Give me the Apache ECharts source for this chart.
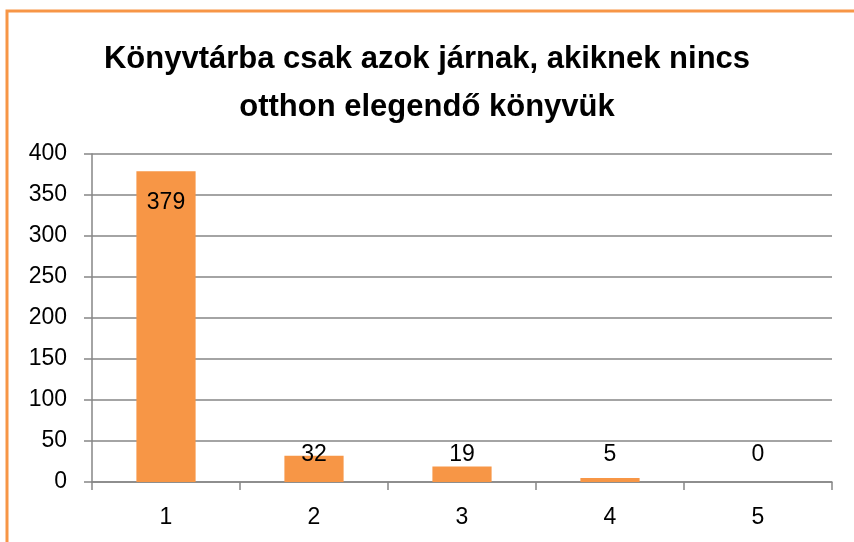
<!DOCTYPE html>
<html>
<head>
<meta charset="utf-8">
<script src="https://cdn.jsdelivr.net/npm/echarts@6/dist/echarts.min.js"></script>
<style>
  html, body { margin: 0; padding: 0; background: #fff; }
  #chart { width: 854px; height: 542px; }
</style>
</head>
<body>
<div id="chart"></div>
<script>
const titleText = 'Könyvtárba csak azok járnak, akiknek nincs\notthon elegendő könyvük'
const categories = ['1', '2', '3', '4', '5']
const values = [379, 32, 19, 5, 0]
const yTicks = {min: 0, max: 400, interval: 50}

const orange = '#F79646'
const gray = '#868686'
const font = '"Liberation Sans", Arial, sans-serif'

const chart = echarts.init(document.getElementById('chart'))

// big bar keeps its label inside, small ones sit just above the axis
const barData = values.map(v => ({
  value: v,
  label: v > 100
    ? {position: 'insideTop', distance: 20}
    : {position: 'insideBottom', distance: 16}
}))

chart.setOption({
  animation: false,
  backgroundColor: '#fff',
  title: {
    text: titleText,
    left: 'center',
    top: 30,
    textStyle: {
      fontFamily: font,
      fontWeight: 'bold',
      fontSize: 31,
      lineHeight: 48,
      color: '#000'
    }
  },
  graphic: [{
    type: 'rect',
    shape: {x: 7, y: 11, width: 900, height: 600},
    style: {fill: 'none', stroke: orange, lineWidth: 3},
    silent: true
  }],
  grid: {left: 92, right: 22, top: 154, bottom: 60},
  xAxis: {
    type: 'category',
    data: categories,
    axisLine: {lineStyle: {color: gray, width: 1.5}},
    axisTick: {show: true, length: 8, alignWithLabel: false, lineStyle: {color: gray, width: 1.5}},
    axisLabel: {color: '#000', fontFamily: font, fontSize: 23, margin: 24}
  },
  yAxis: {
    type: 'value',
    min: yTicks.min,
    max: yTicks.max,
    interval: yTicks.interval,
    axisLine: {show: true, lineStyle: {color: gray, width: 1.5}},
    axisTick: {show: true, length: 8, inside: false, lineStyle: {color: gray, width: 1.5}},
    axisLabel: {color: '#000', fontFamily: font, fontSize: 23, margin: 25},
    splitLine: {lineStyle: {color: gray, width: 1.5}}
  },
  series: [{
    type: 'bar',
    data: barData,
    barWidth: '40%',
    itemStyle: {color: orange},
    label: {
      show: true,
      color: '#000',
      fontFamily: font,
      fontSize: 23
    }
  }]
})
</script>
</body>
</html>
